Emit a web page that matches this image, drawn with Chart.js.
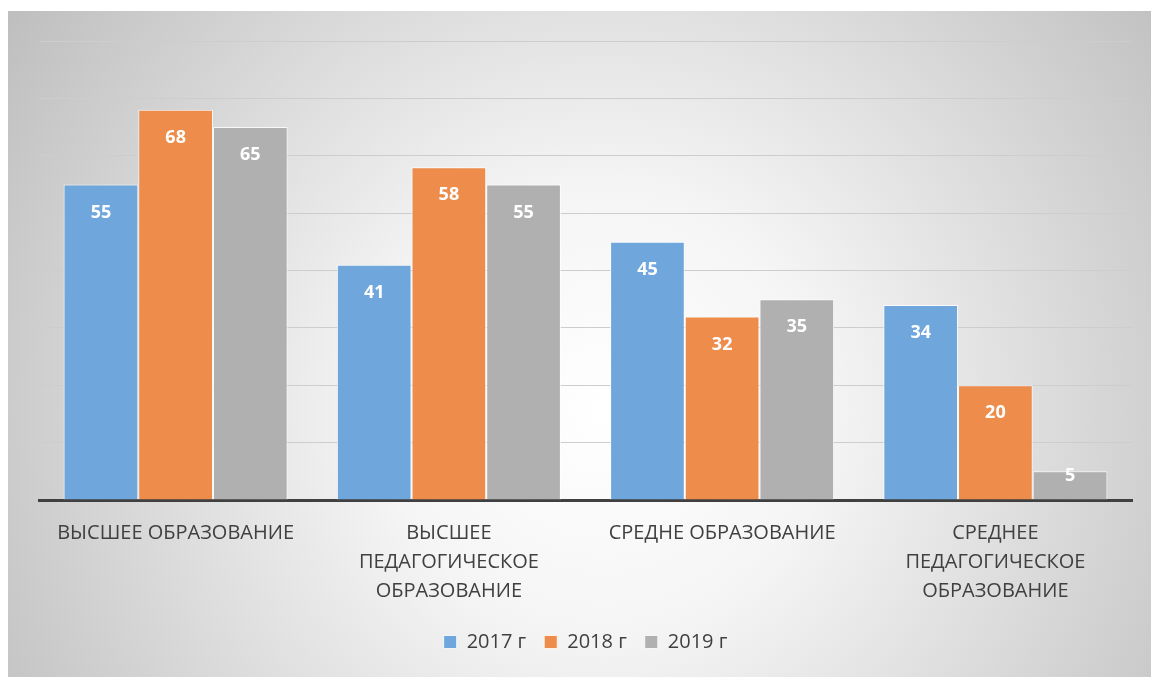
<!DOCTYPE html>
<html>
<head>
<meta charset="utf-8">
<script src="https://cdn.jsdelivr.net/npm/chart.js@4"></script>
<style>
  body { margin: 0; background: #fff; }
  #wrap { position: absolute; left: 8px; top: 11px; width: 1143px; height: 666px; }
</style>
</head>
<body>
<div id="wrap"><canvas id="barCanvas"></canvas></div>
<script>
const categories = [
  "ВЫСШЕЕ ОБРАЗОВАНИЕ",
  ["ВЫСШЕЕ", "ПЕДАГОГИЧЕСКОЕ", "ОБРАЗОВАНИЕ"],
  "СРЕДНЕ ОБРАЗОВАНИЕ",
  ["СРЕДНЕЕ", "ПЕДАГОГИЧЕСКОЕ", "ОБРАЗОВАНИЕ"]
];
const seriesNames = ["2017 г", "2018 г", "2019 г"];
const values2017 = [55, 41, 45, 34];
const values2018 = [68, 58, 32, 20];
const values2019 = [65, 55, 35, 5];

const FONT = "'Open Sans', sans-serif";

// radial gradient behind the chart, like the Office style
const bgPlugin = {
  id: "bg",
  beforeDraw(chart) {
    const { ctx, width, height } = chart;
    const g = ctx.createRadialGradient(width * 0.52, height * 0.6, 0, width * 0.52, height * 0.6, Math.hypot(width, height) * 0.55);
    g.addColorStop(0, "#ffffff");
    g.addColorStop(0.3, "#f5f5f5");
    g.addColorStop(1, "#bdbdbd");
    ctx.save();
    ctx.fillStyle = g;
    ctx.fillRect(0, 0, width, height);
    ctx.restore();
  }
};

// values written inside the top of each bar
const labelPlugin = {
  id: "barLabels",
  afterDatasetsDraw(chart) {
    const ctx = chart.ctx;
    ctx.save();
    ctx.fillStyle = "#ffffff";
    ctx.font = "bold 18px " + FONT;
    ctx.textAlign = "center";
    ctx.textBaseline = "middle";
    chart.data.datasets.forEach((ds, i) => {
      chart.getDatasetMeta(i).data.forEach((bar, j) => {
        const h = bar.base - bar.y;
        const off = Math.min(28, h - 24);
        ctx.fillText(ds.data[j], bar.x, bar.y + off);
      });
    });
    ctx.restore();
  }
};

new Chart(document.getElementById("barCanvas"), {
  type: "bar",
  data: {
    labels: categories,
    datasets: [
      { label: seriesNames[0], data: values2017, backgroundColor: "#6fa7dc" },
      { label: seriesNames[1], data: values2018, backgroundColor: "#ed8c4b" },
      { label: seriesNames[2], data: values2019, backgroundColor: "#b0b0b0" }
    ].map(d => Object.assign(d, {
      borderColor: "rgba(255,255,255,0.8)",
      borderWidth: 1,
      categoryPercentage: 0.82,
      barPercentage: 1.0
    }))
  },
  options: {
    responsive: true,
    maintainAspectRatio: false,
    animation: false,
    layout: { padding: { left: 31, right: 19, top: 30, bottom: 15 } },
    plugins: {
      legend: {
        position: "bottom",
        labels: {
          color: "#404040",
          font: { family: FONT, size: 20 },
          boxWidth: 13,
          boxHeight: 13,
          padding: 18
        }
      },
      tooltip: { enabled: false }
    },
    scales: {
      x: {
        grid: { display: false },
        border: { color: "#404040", width: 3 },
        ticks: {
          color: "#404040",
          font: { family: FONT, size: 20, lineHeight: 1.45 },
          padding: 11,
          maxRotation: 0,
          autoSkip: false
        },
        afterFit(scale) { scale.height = 114; }
      },
      y: {
        min: 0,
        max: 80,
        ticks: { display: false, stepSize: 10 },
        grid: { color: "#cdcdcd", lineWidth: 1, drawTicks: false },
        border: { display: false },
        afterFit(scale) { scale.width = 0; }
      }
    }
  },
  plugins: [bgPlugin, labelPlugin]
});
</script>
</body>
</html>
